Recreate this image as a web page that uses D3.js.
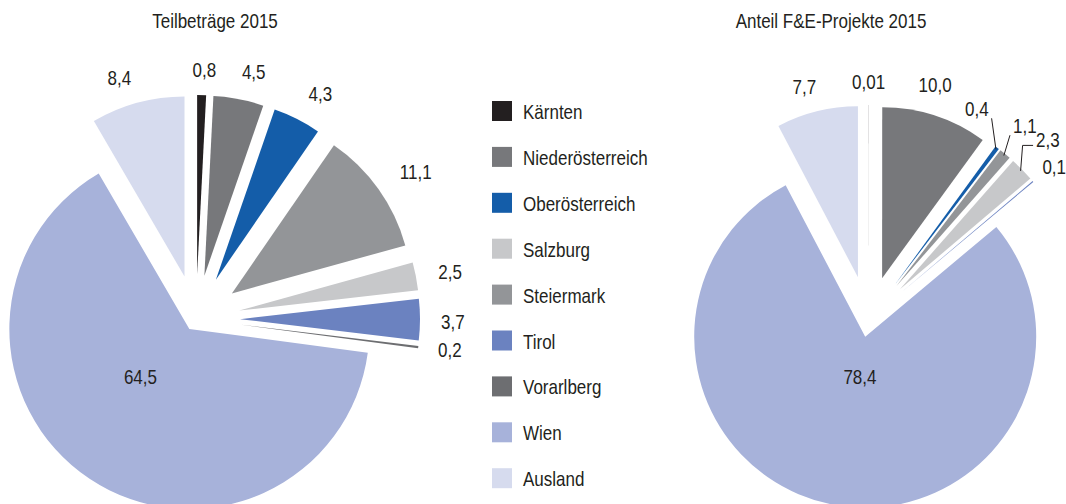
<!DOCTYPE html>
<head>
  <meta charset="utf-8">
  <title>Teilbeträge und Anteil F&amp;E-Projekte 2015</title>
  <style>
    body { margin: 0; background: #fff; }
    text { font-family: "Liberation Sans", Arial, sans-serif; font-size: 20px; fill: #231f20; }
  </style>
</head>
<body>
  <script src="https://cdn.jsdelivr.net/npm/d3@7/dist/d3.min.js"></script>
  <script>
    // legend order
    var regions = ["Kärnten", "Niederösterreich", "Oberösterreich", "Salzburg", "Steiermark",
                   "Tirol", "Vorarlberg", "Wien", "Ausland"];
    var colors = ["#231f20", "#77787b", "#145da9", "#c7c8ca", "#939598",
                  "#6b82c0", "#6d6e71", "#a7b2da", "#d6dbee"];

    // slice order in the pies (clockwise from 12 o'clock)
    var pieOrder = ["Kärnten", "Niederösterreich", "Oberösterreich", "Steiermark", "Salzburg",
                    "Tirol", "Vorarlberg", "Wien", "Ausland"];
    var teilbetraege = [0.8, 4.5, 4.3, 11.1, 2.5, 3.7, 0.2, 64.5, 8.4];
    var projekte = [0.01, 10.0, 0.4, 1.1, 2.3, 0.1, 0, 78.4, 7.7];

    var color = d3.scaleOrdinal().domain(regions).range(colors);
    var squeeze = 0.85; // narrow the glyphs, the original uses a condensed face

    var svg = d3.select("body").append("svg")
        .attr("width", 1066)
        .attr("height", 504);

    function fmt(v) {
      return v.toFixed(v < 0.05 ? 2 : 1).replace(".", ",");
    }

    function label(parent, x, y, str, anchor) {
      return parent.append("text")
          .attr("transform", "translate(" + x + "," + y + ") scale(" + squeeze + ",1)")
          .attr("text-anchor", anchor || "middle")
          .text(str);
    }

    function drawPie(values, opt) {
      var data = pieOrder.map(function(name, i) { return {name: name, value: values[i]}; });
      var pie = d3.pie().sort(null).value(function(d) { return d.value; });
      var arc = d3.arc().innerRadius(0).outerRadius(opt.r);
      var arcs = pie(data);

      label(svg, opt.titleX, 28, opt.title);

      var g = svg.append("g").attr("transform", "translate(" + opt.cx + "," + opt.cy + ")");

      arcs.forEach(function(a, i) {
        var mid = (a.startAngle + a.endAngle) / 2;
        var ux = Math.sin(mid), uy = -Math.cos(mid);
        var off = a.data.name == "Wien" ? opt.explodeMain : opt.explode;
        var ox = ux * off, oy = uy * off;

        if (a.value > 0) {
          g.append("path")
              .attr("transform", "translate(" + ox + "," + oy + ")")
              .attr("d", arc(a))
              .attr("fill", color(a.data.name));
        }
        if (a.value <= 0) return;

        if (a.data.name == "Wien") {
          var n = opt.insideNudge;
          label(g, ox + ux * opt.r * opt.insideR + n[0], oy + uy * opt.r * opt.insideR + n[1] + 7, fmt(a.value));
          return;
        }

        // outside-end label, moved by hand where the original was moved
        var t = label(g, 0, 0, fmt(a.value));
        var w = t.node().getComputedTextLength() * squeeze;
        var dist = off + opt.r + opt.gap;
        var nudge = opt.nudge[i] || [0, 0];
        var lx = ux * dist + ux * w / 2 + nudge[0];
        var ly = uy * dist + uy * 7 + nudge[1];
        t.attr("transform", "translate(" + lx + "," + (ly + 7) + ") scale(" + squeeze + ",1)");

        var kind = opt.leaders && opt.leaders[i];
        if (!kind) return;
        var sx = ux * (off + opt.r - 2), sy = uy * (off + opt.r - 2);
        var pts;
        if (kind == "elbow") {
          var hy = ly + 5;
          pts = [[sx, sy], [sx + 2, hy], [lx - w / 2 - 3, hy]];
        } else {
          var bx0 = lx - w / 2 - 3, bx1 = lx + w / 2 + 3, by0 = ly - 9, by1 = ly + 9;
          pts = [[sx, sy], [Math.max(bx0, Math.min(sx, bx1)), Math.max(by0, Math.min(sy, by1))]];
        }
        g.append("path")
            .attr("d", d3.line()(pts))
            .attr("fill", "none")
            .attr("stroke", "#231f20")
            .attr("stroke-width", 1);
      });
    }

    drawPie(teilbetraege, {
      title: "Teilbeträge 2015", titleX: 215,
      cx: 196, cy: 319, r: 180, explode: 44, explodeMain: 12, gap: 20,
      insideR: 0.35, insideNudge: [-14, -4],
      nudge: {0: [2, 2], 1: [9, -1], 2: [9, -1], 3: [8, -1], 4: [3, 1], 5: [1, 2], 8: [-10, 1]}
    });

    drawPie(projekte, {
      title: "Anteil F&E-Projekte 2015", titleX: 831,
      cx: 868.5, cy: 320, r: 171, explode: 44, explodeMain: 17, gap: 16,
      insideR: 0.25, insideNudge: [3, -2],
      nudge: {1: [-10, -9], 2: [-37, -20], 3: [2, -10], 4: [6, -13], 8: [-6, -2]},
      leaders: {2: "line", 3: "line", 4: "elbow"}
    });

    // legend
    var legend = svg.append("g").attr("transform", "translate(492,101)");
    regions.forEach(function(name, i) {
      var row = legend.append("g").attr("transform", "translate(0," + (i * 45.9) + ")");
      row.append("rect")
          .attr("width", 20)
          .attr("height", 20)
          .attr("fill", color(name));
      label(row, 31, 18, name, "start");
    });
  </script>
</body>
